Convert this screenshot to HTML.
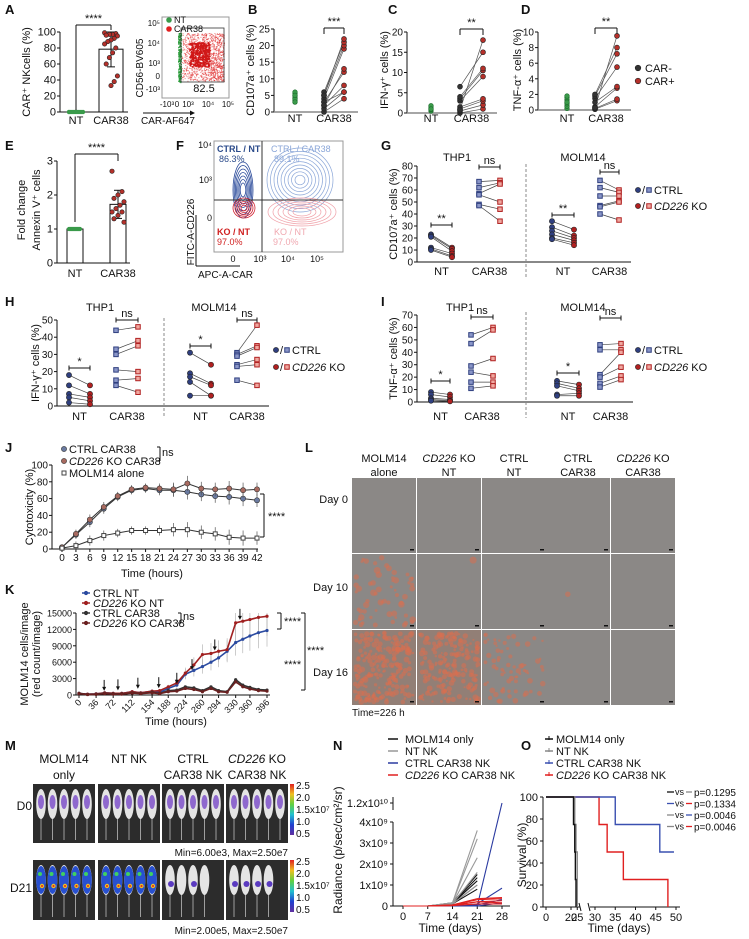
<!DOCTYPE html>
<html><head><meta charset="utf-8">
<style>
body{margin:0;background:#fff}
svg{display:block;font-family:"Liberation Sans",Arial,sans-serif}
</style></head>
<body>
<svg id="fig" width="749" height="939" viewBox="0 0 749 939">
<defs>
<linearGradient id="cbar" x1="0" y1="0" x2="0" y2="1">
<stop offset="0" stop-color="#e02020"/><stop offset="0.2" stop-color="#f0c020"/><stop offset="0.4" stop-color="#60d040"/><stop offset="0.6" stop-color="#20c0d0"/><stop offset="0.8" stop-color="#2040d0"/><stop offset="1" stop-color="#6030a0"/>
</linearGradient>
</defs>
</svg>
<script>
// ---------- DATA ----------
const aCats=['NT','CAR38'];
const aNT=[0,0,0,0,0,0,0,0,0,0,0,0,0,0,0,0,0];
const aCAR=[99,98,97,97,96,95,92,90,88,85,80,74,68,60,45,38,33];
const bNT=[3,3.5,4,4.5,5,5.5,6,4,3,5];
const bNeg=[0,1,2,3,4,5,6,5,3,2];
const bPos=[4,6,8,12,19,20,21,22,6,13];
const cNT=[0.5,0.8,1,1.2,1.5,1.8,1];
const cNeg=[0,0.5,1,1.5,3,3.5,4,6.5,0.8];
const cPos=[1,2,3,3.5,9,10.5,11,15,18];
const dNT=[0.2,0.5,0.8,1,1.3,1.6,1.8,1];
const dNeg=[0.1,0.2,0.4,1,1.5,1.8,2,0.3];
const dPos=[1.2,1.4,2.8,3,5.5,7.2,8,9.5];
const eNT=[1,1,1,1,1,1,1,1,1,1,1,1];
const eCAR=[2.7,2.1,2.0,1.9,1.8,1.7,1.6,1.5,1.5,1.4,1.3,1.2];
const gThpNtC=[23,22,21,12,11,10],gThpNtK=[12,11,9,7,5,4];
const gThpCarC=[67,62,57,56,48,47],gThpCarK=[68,66,65,50,44,34];
const gMolNtC=[34,29,26,23,20,19],gMolNtK=[27,22,20,18,16,14];
const gMolCarC=[68,62,55,47,46,40],gMolCarK=[60,58,55,51,50,35];
const hThpNtC=[18,12,7,5,2],hThpNtK=[12,7,5,3,1];
const hThpCarC=[44,33,30,21,15,12],hThpCarK=[46,38,35,20,16,8];
const hMolNtC=[31,19,17,14,6],hMolNtK=[24,13,12,6,6];
const hMolCarC=[31,30,29,24,23,15],hMolCarK=[47,35,34,27,24,12];
const iThpNtC=[8,6,3,2,1],iThpNtK=[6,4,2,1,0.5];
const iThpCarC=[54,47,29,24,16,11],iThpCarK=[60,58,35,21,16,13];
const iMolNtC=[17,15,13,6,5],iMolNtK=[14,11,9,7,5];
const iMolCarC=[46,42,22,20,15,12],iMolCarK=[47,42,40,28,21,18];
const jTime=[0,3,6,9,12,15,18,21,24,27,30,33,36,39,42];
const jCtrl=[2,17,32,48,62,70,72,70,70,68,65,63,62,60,58];
const jKO=[2,18,35,50,63,71,73,72,71,78,72,71,72,70,71];
const jAlone=[1,4,10,16,19,22,22,22,23,23,20,18,14,13,13];
const jErr=[2,5,6,6,5,5,5,6,8,9,8,8,9,9,8];
const kTime=[0,18,36,54,72,90,112,130,154,170,188,206,224,242,260,278,294,312,330,345,360,378,396];
const kCtrlNT=[300,150,200,400,300,300,600,400,700,500,1200,1800,3800,4500,5200,6000,6800,8000,9600,10200,10800,11400,11800];
const kKoNT=[300,150,200,400,300,300,600,400,700,800,1500,2200,4000,5500,7400,7600,8000,8300,13200,13500,13800,14200,14400];
const kCtrlCAR=[300,100,150,300,200,200,400,300,500,300,800,900,1500,1300,800,1500,800,600,2800,1800,1400,1000,900];
const kKoCAR=[250,80,120,250,150,150,350,250,400,250,600,700,1200,1000,600,1200,600,500,2400,1500,1100,800,700];
const kArrows=[53,82,124,168,206,238,286,339];
const kTickLabels=[0,36,72,112,154,188,224,260,294,330,360,396];
const nDays=[0,7,14,21,28];
const nMolm=[[0,0,1.0e8,1.0e9],[0,0,1.2e8,1.2e9],[0,0,1.5e8,1.5e9],[0,0,1.0e8,0.8e9],[0,0,1.3e8,1.35e9]];
const nNT=[[0,0,1.5e8,3.6e9],[0,0,1.5e8,3.2e9],[0,0,1.2e8,2.3e9],[0,0,1.0e8,1.6e9],[0,0,1.0e8,1.0e9]];
const nCtrl=[[0,0,0,0,1.2e10],[0,0,0,1e8,0.85e9],[0,0,0,5e7,0.3e9],[0,0,0,0,1.5e8]];
const nKO=[[0,0,5e7,3.5e8,4.0e8],[0,0,5e7,3.0e8,3.5e8],[0,0,2e7,2.0e8,2.5e8],[0,0,2e7,1.0e8,1.0e8],[0,0,5e7,2.0e8,1.5e8]];
const oBlackT=[0,22,23,23.5,24],oBlackS=[100,75,50,25,0];
const oGrayT=[0,23,24,25],oGrayS=[100,75,50,0];
const oBlueT=[0,35,46,49],oBlueS=[100,75,50,50];
const oRedT=[0,31,33,37,48],oRedS=[100,75,50,25,0];
const oPvals=['p=0.1295','p=0.1334','p=0.0046','p=0.0046'];

// ---------- HELPERS ----------
const NS='http://www.w3.org/2000/svg';
const root=document.getElementById('fig');
function mk(tag,attrs,name,parent){
  const el=document.createElementNS(NS,tag);
  for(const k in attrs) el.setAttribute(k,attrs[k]);
  
  
  (parent||root).appendChild(el);
  return el;
}
function T(x,y,s,o,name,p){o=o||{};const a={x:x,y:y,'font-size':o.fs||10,'text-anchor':o.a||'start',fill:o.c||'#111'};
  if(o.w)a['font-weight']=o.w; if(o.i)a['font-style']='italic'; if(o.r)a.transform='rotate('+o.r+' '+x+' '+y+')';
  const el=mk('text',a,name,p);el.textContent=s;return el;}
function L(x1,y1,x2,y2,c,w,name,p,dash){const a={x1:x1,y1:y1,x2:x2,y2:y2,stroke:c||'#111','stroke-width':w||1};if(dash)a['stroke-dasharray']=dash;return mk('line',a,name,p);}
function lin(d0,d1,r0,r1){return v=>r0+(v-d0)*(r1-r0)/(d1-d0);}
function G(name){return mk('g',{},name);}
function yAxis(g,x,sc,ticks,labels,fs){L(x,sc(ticks[0]),x,sc(ticks[ticks.length-1]),'#111',1,'y-axis-line',g);
  ticks.forEach((t,i)=>{L(x-3,sc(t),x,sc(t),'#111',1,'y-tick',g);T(x-4,sc(t)+3.5,labels?labels[i]:String(t),{a:'end',fs:fs||10},'y-tick-label',g);});}
function dot(g,x,y,r,fill,name,stroke){return mk('circle',{cx:x,cy:y,r:r,fill:fill,stroke:stroke||'#222','stroke-width':0.6},name,g);}
function sq(g,x,y,s,fill,stroke,name){return mk('rect',{x:x-s/2,y:y-s/2,width:s,height:s,fill:fill,stroke:stroke,'stroke-width':1},name,g);}
function bracket(g,x1,x2,y,label,name,legs){L(x1,y,x2,y,'#111',1,name,g);
  if(legs){L(x1,y,x1,legs[0],'#111',1,name+'-leg',g);L(x2,y,x2,legs[1],'#111',1,name+'-leg',g);}
  else{L(x1,y-2.5,x1,y+2.5,'#111',1,name+'-cap',g);L(x2,y-2.5,x2,y+2.5,'#111',1,name+'-cap',g);}
  T((x1+x2)/2,y-3,label,{a:'middle',fs:11},name+'-label',g);}
function mean(a){return a.reduce((s,v)=>s+v,0)/a.length;}
function sd(a){const m=mean(a);return Math.sqrt(a.reduce((s,v)=>s+(v-m)*(v-m),0)/(a.length-1));}
let seed=7;function rnd(){seed=(seed*16807)%2147483647;return (seed-1)/2147483646;}
function plabel(x,y,s,g){T(x,y,s,{fs:13,w:'bold'},'panel-label',g);}
const RED='#b5302a',BLK='#333',GRN='#3a9a4a';
const CB='#2f3f7f',CBs='#8a96c8',KR='#b02020',KRs='#f0a8a0';

// ---------- PANEL A ----------
{const g=G('panel-a');plabel(5,14,'A',g);
 const sy=lin(0,100,112,32);yAxis(g,60,sy,[0,20,40,60,80,100],null,11);
 L(60,112,128,112,'#111',1,'x-axis-line',g);
 const xs=[76,111];aCats.forEach((c,i)=>T(xs[i],124,c,{a:'middle',fs:11},'x-tick-label',g));
 const m=mean(aCAR),s=sd(aCAR);
 mk('rect',{x:99,y:sy(m),width:24,height:sy(0)-sy(m),fill:'#fff',stroke:'#111'},'bar-car38',g);
 L(111,sy(Math.min(100,m+s)),111,sy(m-s),'#111',1,'error-bar',g);
 L(107,sy(Math.min(100,m+s)),115,sy(Math.min(100,m+s)),'#111',1,'error-cap',g);L(107,sy(m-s),115,sy(m-s),'#111',1,'error-cap',g);
 aNT.forEach((v,i)=>dot(g,69+(i%8)*2,sy(v),1.8,GRN,'point-nt',GRN));
 aCAR.forEach((v,i)=>dot(g,111+((i*7)%9-4)*1.6,sy(v),2.2,RED,'point-car38'));
 bracket(g,76,111,25,'****','sig-bracket',[110,30]);
 T(30,72,'CAR⁺ NKcells (%)',{r:-90,a:'middle',fs:11},'y-axis-title',g);
 const f=G('flow-plot-a');
 mk('rect',{x:162,y:17,width:67,height:81,fill:'#fff',stroke:'#999'},'flow-frame',f);
 for(let i=0;i<1200;i++){const x=182+Math.pow(rnd(),0.8)*42;const y=33+rnd()*48;mk('rect',{x:x,y:y,width:1,height:1,fill:'#e02a2a',opacity:0.6},'cell-dot',f);}
 for(let i=0;i<300;i++){mk('circle',{cx:200+ (rnd()-0.5)*20,cy:55+(rnd()-0.5)*24,r:1,fill:'#d01818'},'cell-dot-dense',f);}
 for(let i=0;i<200;i++){mk('rect',{x:178+rnd()*3,y:33+rnd()*49,width:1.2,height:1.2,fill:'#2a9a3a'},'cell-dot-nt',f);}
 mk('rect',{x:181,y:28,width:43,height:54,fill:'none',stroke:'#333','stroke-width':0.8},'gate',f);
 T(204,92,'82.5',{a:'middle',fs:11},'gate-percent',f);
 [['10⁵',26],['10⁴',46],['10³',66],['0',79],['-10³',92]].forEach(t=>T(160,t[1],t[0],{a:'end',fs:8},'y-tick-label',f));
 [['-10³',167],['0',177],['10³',188],['10⁴',208],['10⁵',228]].forEach(t=>T(t[1],107,t[0],{a:'middle',fs:8},'x-tick-label',f));
 L(143,113,192,113,'#111',1,'x-arrow',f);mk('path',{d:'M195,113 l-5,-2.5 v5z',fill:'#111'},'arrowhead',f);
 T(143,68,'CD56-BV605',{r:-90,a:'middle',fs:10},'y-axis-title',f);
 T(141,124,'CAR-AF647',{fs:10},'x-axis-title',f);
 dot(f,169,20,2.5,GRN,'legend-marker-nt',GRN);T(174,23,'NT',{fs:9},'legend-nt',f);
 dot(f,169,29,2.5,'#e02020','legend-marker-car38','#e02020');T(174,32,'CAR38',{fs:9},'legend-car38',f);
}
// ---------- PANELS B C D ----------
function pairPanel(name,lab,lx,ax,sy,ticks,ntX,negX,posX,nt,neg,pos,ytitle,stars,bY,yt){
 const g=G(name);plabel(lx,14,lab,g);
 yAxis(g,ax,sy,ticks,null,10);
 L(ax,sy(0),posX+14,sy(0),'#888',1.5,'x-axis-line',g);
 T(ntX,122,'NT',{a:'middle',fs:11},'x-tick-label',g);T((negX+posX)/2,122,'CAR38',{a:'middle',fs:11},'x-tick-label',g);
 nt.forEach((v,i)=>dot(g,ntX,sy(v),2.3,GRN,'point-nt','#1a6a2a'));
 neg.forEach((v,i)=>L(negX,sy(v),posX,sy(pos[i]),'#555',0.7,'pair-line',g));
 neg.forEach((v,i)=>dot(g,negX,sy(v),2.5,BLK,'point-car-neg'));
 pos.forEach((v,i)=>dot(g,posX,sy(v),2.5,RED,'point-car-pos'));
 bracket(g,negX,posX,bY,stars,'sig-bracket',[bY+6,bY+6]);
 T(yt,70,ytitle,{r:-90,a:'middle',fs:11},'y-axis-title',g);
 return g;}
pairPanel('panel-b','B',248,274,lin(0,25,112,29),[0,5,10,15,20,25],295,324,344,bNT,bNeg,bPos,'CD107a⁺ cells (%)','***',28,254);
pairPanel('panel-c','C',388,407,lin(0,20,113,32),[0,5,10,15,20],431,460,483,cNT,cNeg,cPos,'IFN-γ⁺ cells (%)','**',29,388);
const gd=pairPanel('panel-d','D',521,538,lin(0,10,110,32),[0,2,4,6,8,10],567,595,617,dNT,dNeg,dPos,'TNF-α⁺ cells (%)','**',28,521);
dot(gd,638,68,2.8,BLK,'legend-marker-car-neg');T(645,72,'CAR-',{fs:11},'legend-car-neg',gd);
dot(gd,638,81,2.8,RED,'legend-marker-car-pos');T(645,85,'CAR+',{fs:11},'legend-car-pos',gd);

// ---------- PANEL E ----------
{const g=G('panel-e');plabel(5,150,'E',g);
 const sy=lin(0,3,263,161);yAxis(g,57,sy,[0,1,2,3],null,11);
 L(57,263,130,263,'#111',1,'x-axis-line',g);
 T(75,277,'NT',{a:'middle',fs:11},'x-tick-label',g);T(118,277,'CAR38',{a:'middle',fs:11},'x-tick-label',g);
 const m1=mean(eNT),m2=mean(eCAR),s2=sd(eCAR);
 mk('rect',{x:67,y:sy(m1),width:16,height:sy(0)-sy(m1),fill:'#fff',stroke:'#111'},'bar-nt',g);
 mk('rect',{x:110,y:sy(m2),width:16,height:sy(0)-sy(m2),fill:'#fff',stroke:'#111'},'bar-car38',g);
 L(118,sy(m2+s2),118,sy(m2-s2),'#111',1,'error-bar',g);L(114,sy(m2+s2),122,sy(m2+s2),'#111',1,'error-cap',g);L(114,sy(m2-s2),122,sy(m2-s2),'#111',1,'error-cap',g);
 eNT.forEach((v,i)=>dot(g,69+i,sy(v),1.8,GRN,'point-nt',GRN));
 eCAR.forEach((v,i)=>dot(g,118+((i*5)%7-3)*2,sy(v),2.2,RED,'point-car38'));
 bracket(g,75,118,154,'****','sig-bracket',[222,161]);
 T(25,210,'Fold change',{r:-90,a:'middle',fs:11},'y-axis-title-line1',g);
 T(40,210,'Annexin V⁺ cells',{r:-90,a:'middle',fs:11},'y-axis-title-line2',g);
}
// ---------- PANEL F ----------
{const g=G('panel-f');plabel(176,150,'F',g);
 mk('rect',{x:214,y:141,width:129,height:111,fill:'#fff',stroke:'#999'},'flow-frame',g);
 for(let k=0;k<9;k++){mk('ellipse',{cx:300,cy:180,rx:33-k*3.5,ry:32-k*3.4,fill:'none',stroke:'#8aa6d8','stroke-width':0.7},'contour-ctrl-car38',g);}
 for(let k=0;k<6;k++){mk('ellipse',{cx:302,cy:212,rx:34-k*5,ry:14-k*2,fill:'none',stroke:'#f0a0a8','stroke-width':0.7},'contour-ko-car38',g);}
 for(let k=0;k<7;k++){mk('ellipse',{cx:243,cy:190,rx:10-k*1.2,ry:28-k*3.5,fill:'none',stroke:'#2a4a9a','stroke-width':0.8},'contour-ctrl-nt',g);}
 for(let k=0;k<5;k++){mk('ellipse',{cx:244,cy:208,rx:11-k*2,ry:10-k*1.8,fill:'none',stroke:'#d02030','stroke-width':0.8},'contour-ko-nt',g);}
 L(262,141,262,252,'#333',1,'quadrant-v',g);L(214,200,343,200,'#333',1,'quadrant-h',g);
 T(217,152,'CTRL / NT',{fs:9,w:'bold',c:'#2a4a8a'},'quad-label',g);T(219,162,'86.3%',{fs:9,c:'#2a4a8a'},'quad-value',g);
 T(271,152,'CTRL / CAR38',{fs:9,c:'#8aa6d8'},'quad-label',g);T(274,162,'89.1%',{fs:9,c:'#8aa6d8'},'quad-value',g);
 T(217,235,'KO / NT',{fs:9,w:'bold',c:'#d02020'},'quad-label',g);T(217,245,'97.0%',{fs:9,c:'#d02020'},'quad-value',g);
 T(274,235,'KO / NT',{fs:9,c:'#f0a8b0'},'quad-label',g);T(273,245,'97.0%',{fs:9,c:'#f0a8b0'},'quad-value',g);
 T(212,148,'10⁴',{a:'end',fs:9},'y-tick-label',g);T(212,183,'10³',{a:'end',fs:9},'y-tick-label',g);T(212,221,'0',{a:'end',fs:9},'y-tick-label',g);
 [['0',233],['10³',260],['10⁴',288],['10⁵',317]].forEach(t=>T(t[1],262,t[0],{a:'middle',fs:9},'x-tick-label',g));
 L(196,266,240,266,'#111',1,'x-arrow',g);L(196,266,196,215,'#111',1,'y-arrow',g);
 T(194,232,'FITC-A-CD226',{r:-90,a:'middle',fs:10},'y-axis-title',g);
 T(198,278,'APC-A-CAR',{fs:10},'x-axis-title',g);
}
// ---------- PANELS G H I ----------
function grpPanel(name,lab,lx,ly,ax,sy,ticks,pos,sets,div,divY,titles,xlabY,brks,legX,legY,ytitle,ytx){
 const g=G(name);plabel(lx,ly,lab,g);
 yAxis(g,ax,sy,ticks,null,10);
 L(ax,sy(0),pos[3][1]+12,sy(0),'#111',1,'x-axis-line',g);
 L(div,divY[0],div,divY[1],'#888',1,'group-divider',g,'3,2');
 T(titles[0][1],titles[0][2],titles[0][0],{a:'middle',fs:11},'group-title',g);
 T(titles[1][1],titles[1][2],titles[1][0],{a:'middle',fs:11},'group-title',g);
 ['NT','CAR38','NT','CAR38'].forEach((s,i)=>T((pos[i][0]+pos[i][1])/2,xlabY,s,{a:'middle',fs:11},'x-tick-label',g));
 sets.forEach((st,i)=>{const c=st[0],k=st[1];
  c.forEach((v,j)=>L(pos[i][0],sy(v),pos[i][1],sy(k[j]),'#444',0.7,'pair-line',g));
  c.forEach(v=>{if(i%2==0)dot(g,pos[i][0],sy(v),2.6,CB,'point-ctrl');else sq(g,pos[i][0],sy(v),4.5,CBs,CB,'point-ctrl');});
  k.forEach(v=>{if(i%2==0)dot(g,pos[i][1],sy(v),2.6,KR,'point-ko');else sq(g,pos[i][1],sy(v),4.5,KRs,KR,'point-ko');});
 });
 brks.forEach(b=>bracket(g,b[0],b[1],b[2],b[3],'sig-bracket'));
 dot(g,legX,legY[0],2.6,CB,'legend-marker-ctrl');T(legX+4,legY[0]+4,'/',{fs:11},'legend-slash',g);sq(g,legX+11,legY[0],4.5,CBs,CB,'legend-marker-ctrl');T(legX+16,legY[0]+4,'CTRL',{fs:11},'legend-ctrl',g);
 dot(g,legX,legY[1],2.6,KR,'legend-marker-ko');T(legX+4,legY[1]+4,'/',{fs:11},'legend-slash',g);sq(g,legX+11,legY[1],4.5,KRs,KR,'legend-marker-ko');
 const t=T(legX+16,legY[1]+4,'',{fs:11},'legend-ko',g);t.innerHTML='<tspan font-style="italic">CD226</tspan> KO';
 T(ytx,(sy(0)+sy(ticks[ticks.length-1]))/2,ytitle,{r:-90,a:'middle',fs:11},'y-axis-title',g);}
grpPanel('panel-g','G',381,150,417,lin(0,80,262,166),[0,10,20,30,40,50,60,70,80],[[431,452],[479,500],[552,574],[600,619]],
 [[gThpNtC,gThpNtK],[gThpCarC,gThpCarK],[gMolNtC,gMolNtK],[gMolCarC,gMolCarK]],526,[164,278],[['THP1',457,161],['MOLM14',583,161]],275,
 [[431,452,225,'**'],[479,500,167,'ns'],[552,574,215,'**'],[600,619,172,'ns']],638,[190,206],'CD107a⁺ cells (%)',397);
grpPanel('panel-h','H',5,306,57,lin(0,50,406,320),[0,10,20,30,40,50],[[69,90],[116,138],[190,211],[237,257]],
 [[hThpNtC,hThpNtK],[hThpCarC,hThpCarK],[hMolNtC,hMolNtK],[hMolCarC,hMolCarK]],164,[318,418],[['THP1',100,311],['MOLM14',214,311]],420,
 [[69,90,368,'*'],[116,138,320,'ns'],[190,211,346,'*'],[237,257,320,'ns']],276,[350,367],'IFN-γ⁺ cells (%)',39);
grpPanel('panel-i','I',381,306,417,lin(0,70,402,315),[0,10,20,30,40,50,60,70],[[431,450],[471,493],[557,579],[600,621]],
 [[iThpNtC,iThpNtK],[iThpCarC,iThpCarK],[iMolNtC,iMolNtK],[iMolCarC,iMolCarK]],526,[312,418],[['THP1',460,311],['MOLM14',583,311]],420,
 [[431,450,381,'*'],[471,493,317,'ns'],[557,579,373,'*'],[600,621,318,'ns']],638,[350,367],'TNF-α⁺ cells (%)',397);

// ---------- PANEL J ----------
{const g=G('panel-j');plabel(5,452,'J',g);
 const sy=lin(0,100,549,465),sx=lin(0,42,62,257);
 yAxis(g,52,sy,[0,20,40,60,80,100],null,10);
 L(52,549,258,549,'#111',1,'x-axis-line',g);
 jTime.forEach(t=>{L(sx(t),549,sx(t),552,'#111',1,'x-tick',g);T(sx(t),561,String(t),{a:'middle',fs:10},'x-tick-label',g);});
 const series=[[jCtrl,'#6a7aa0','ctrl-car38'],[jKO,'#a86a60','ko-car38'],[jAlone,'#fff','molm14-alone']];
 series.forEach(s=>{
  s[0].forEach((v,i)=>{L(sx(jTime[i]),sy(v-jErr[i]),sx(jTime[i]),sy(v+jErr[i]),'#555',0.7,'error-bar-'+s[2],g);});
  mk('polyline',{points:s[0].map((v,i)=>sx(jTime[i])+','+sy(v)).join(' '),fill:'none',stroke:'#333','stroke-width':1},'line-'+s[2],g);
  s[0].forEach((v,i)=>{if(s[2]=='molm14-alone')sq(g,sx(jTime[i]),sy(v),4,'#fff','#444','point-'+s[2]);else dot(g,sx(jTime[i]),sy(v),2.6,s[1],'point-'+s[2],'#333');});
 });
 dot(g,64,449,2.6,'#6a7aa0','legend-marker-ctrl','#333');T(69,453,'CTRL CAR38',{fs:11},'legend-ctrl-car38',g);
 dot(g,64,461,2.6,'#a86a60','legend-marker-ko','#333');const t=T(69,465,'',{fs:11},'legend-ko-car38',g);t.innerHTML='<tspan font-style="italic">CD226</tspan> KO CAR38';
 sq(g,64,473,4,'#fff','#444','legend-marker-alone');T(69,477,'MOLM14 alone',{fs:11},'legend-molm14-alone',g);
 L(157,447,160,447,'#111',1,'ns-bracket',g);L(160,447,160,461,'#111',1,'ns-bracket',g);L(157,461,160,461,'#111',1,'ns-bracket',g);T(162,456,'ns',{fs:11},'ns-label',g);
 L(260,494,264,494,'#111',1,'sig-bracket',g);L(264,494,264,537,'#111',1,'sig-bracket',g);L(260,537,264,537,'#111',1,'sig-bracket',g);T(268,520,'****',{fs:11},'sig-label',g);
 T(152,577,'Time (hours)',{a:'middle',fs:11},'x-axis-title',g);
 T(33,507,'Cytotoxicity (%)',{r:-90,a:'middle',fs:11},'y-axis-title',g);
}
// ---------- PANEL K ----------
{const g=G('panel-k');plabel(5,594,'K',g);
 const sy=lin(0,15000,695,613),sx=lin(0,396,79,267);
 yAxis(g,76,sy,[0,3000,6000,9000,12000,15000],null,9);
 L(76,695,270,695,'#111',1,'x-axis-line',g);
 kTickLabels.forEach(t=>{L(sx(t),695,sx(t),698,'#111',1,'x-tick',g);T(sx(t)+3,703,String(t),{a:'end',fs:9,r:-45},'x-tick-label',g);});
 [[kCtrlNT,'#2a4aa0','ctrl-nt'],[kKoNT,'#a02020','ko-nt']].forEach(s=>{
  s[0].forEach((v,i)=>{if(kTime[i]>=188){const e=v*0.25;L(sx(kTime[i]),sy(v-e),sx(kTime[i]),sy(Math.min(15000,v+e)),'#aaa',0.6,'error-bar-'+s[2],g);}});});
 [[kCtrlNT,'#2a4aa0','ctrl-nt'],[kKoNT,'#a02020','ko-nt'],[kCtrlCAR,'#333','ctrl-car38'],[kKoCAR,'#6a2020','ko-car38']].forEach(s=>{
  mk('polyline',{points:s[0].map((v,i)=>sx(kTime[i])+','+sy(v)).join(' '),fill:'none',stroke:s[1],'stroke-width':1.6},'line-'+s[2],g);
  s[0].forEach((v,i)=>dot(g,sx(kTime[i]),sy(v),1.3,s[1],'point-'+s[2],s[1]));});
 kArrows.forEach(h=>{const i=kTime.findIndex(t=>t>=h);const v=Math.max(kCtrlNT[Math.max(0,i-1)],kKoNT[Math.max(0,i-1)]);const y=sy(v)-14;
  L(sx(h),y,sx(h),y+8,'#111',1,'arrow-addition',g);mk('path',{d:'M'+(sx(h)-2)+','+(y+7)+' l2,4 l2,-4z',fill:'#111'},'arrowhead',g);});
 const leg=[['#2a4aa0','CTRL NT',593,false],['#a02020','KO NT',603,true],['#333','CTRL CAR38',613,false],['#6a2020','KO CAR38',623,true]];
 leg.forEach(l=>{L(82,l[2],90,l[2],l[0],1.5,'legend-line',g);dot(g,86,l[2],1.8,l[0],'legend-marker',l[0]);
  const t=T(93,l[2]+4,'',{fs:11},'legend-entry',g);t.innerHTML=l[3]?'<tspan font-style="italic">CD226</tspan> '+l[1]:l[1];});
 L(178,613,181,613,'#111',1,'ns-bracket',g);L(181,613,181,623,'#111',1,'ns-bracket',g);L(178,623,181,623,'#111',1,'ns-bracket',g);T(183,620,'ns',{fs:11},'ns-label',g);
 L(277,613,281,613,'#111',1,'sig-bracket',g);L(281,613,281,629,'#111',1,'sig-bracket',g);L(277,629,281,629,'#111',1,'sig-bracket',g);T(284,625,'****',{fs:11},'sig-label',g);
 L(301,613,305,613,'#111',1,'sig-bracket',g);L(305,613,305,690,'#111',1,'sig-bracket',g);L(301,690,305,690,'#111',1,'sig-bracket',g);T(307,654,'****',{fs:11},'sig-label',g);
 T(284,668,'****',{fs:11},'sig-label',g);
 T(176,725,'Time (hours)',{a:'middle',fs:11},'x-axis-title',g);
 T(28,654,'MOLM14 cells/image',{r:-90,a:'middle',fs:11},'y-axis-title-line1',g);
 T(40,654,'(red count/image)',{r:-90,a:'middle',fs:11},'y-axis-title-line2',g);
}
// ---------- PANEL L ----------
{const g=G('panel-l');plabel(305,452,'L',g);
 const cols=[352,417,482,546,611],rows=[478,554,630],w=64,h=75;
 const heads=[['MOLM14','alone',false],['KO','NT',true],['CTRL','NT',false],['CTRL','CAR38',false],['KO','CAR38',true]];
 heads.forEach((hd,i)=>{const cx=cols[i]+w/2;const t=T(cx,462,'',{a:'middle',fs:11},'column-header',g);t.innerHTML=hd[2]?'<tspan font-style="italic">CD226</tspan> '+hd[0]:hd[0];T(cx,476,hd[1],{a:'middle',fs:11},'column-header-line2',g);});
 [['Day 0',503],['Day 10',591],['Day 16',676]].forEach(r=>T(348,r[1],r[0],{a:'end',fs:11},'row-label',g));
 const dens=[[0,0,0,0,0],[60,1,0,1,0],[220,180,70,0,0]];
 rows.forEach((y,ri)=>cols.forEach((x,ci)=>{
  const n=dens[ri][ci];
  mk('rect',{x:x,y:y,width:w,height:h,fill:n>150?'#927f76':'#8b8886'},'microscopy-image',g);
  for(let k=0;k<n;k++){mk('circle',{cx:x+3+rnd()*(w-6),cy:y+3+rnd()*(h-6),r:(ri==1&&ci==1)?3.5:(ri==2?1+rnd()*2:1.2+rnd()*2.2),fill:'#d87050',opacity:0.55},'tumor-cell-cluster',g);}
  mk('rect',{x:x+w-6,y:y+h-4,width:4,height:1.5,fill:'#111'},'scale-bar',g);}));
 T(352,716,'Time=226 h',{fs:10},'timestamp',g);
}
// ---------- PANEL M ----------
{const g=G('panel-m');plabel(5,750,'M',g);
 const cols=[33,98,162,226],w=62;
 const heads=[['MOLM14','only',false],['NT NK','',false],['CTRL','CAR38 NK',false],['KO','CAR38 NK',true]];
 heads.forEach((hd,i)=>{const cx=cols[i]+w/2;const t=T(cx,763,'',{a:'middle',fs:12},'column-header',g);t.innerHTML=hd[2]?'<tspan font-style="italic">CD226</tspan> '+hd[0]:hd[0];if(hd[1])T(cx,779,hd[1],{a:'middle',fs:12},'column-header-line2',g);});
 const rowsY=[[784,59,'D0',810,856,'Min=6.00e3, Max=2.50e7'],[860,60,'D21',892,934,'Min=2.00e5, Max=2.50e7']];
 rowsY.forEach((r,ri)=>{
  T(32,r[3],r[2],{a:'end',fs:12},'row-label',g);
  cols.forEach((x,ci)=>{
   mk('rect',{x:x,y:r[0],width:w,height:r[1],fill:'#2c2c2c'},'bioluminescence-image',g);
   const nm=(ri==1&&ci>=2)?4:5;
   for(let k=0;k<nm;k++){const mx=x+8+k*11.5;
    L(mx,r[0]+34,mx,r[0]+r[1]-3,'#bbb',0.8,'mouse-tail',g);
    mk('ellipse',{cx:mx,cy:r[0]+20,rx:4.8,ry:15,fill:'#e4e4e4'},'mouse-body',g);
    if(ri==0){mk('ellipse',{cx:mx,cy:r[0]+18,rx:3,ry:7,fill:'#7848c8',opacity:0.8},'signal',g);}
    else if(ci<2){mk('ellipse',{cx:mx,cy:r[0]+20,rx:4.8,ry:14,fill:'#2850d0'},'signal',g);
      mk('circle',{cx:mx-1,cy:r[0]+14,r:2,fill:'#40d060'},'signal-hot',g);mk('circle',{cx:mx+1,cy:r[0]+26,r:2.2,fill:'#f0c020'},'signal-hot',g);mk('circle',{cx:mx+1,cy:r[0]+26,r:1,fill:'#e02020'},'signal-hot',g);}
    else if(k%2==0||ci==3){mk('circle',{cx:mx+1,cy:r[0]+24,r:3,fill:'#5a3ac0'},'signal',g);}
   }});
  mk('rect',{x:290,y:r[0],width:4,height:r[1]-8,fill:'url(#cbar)'},'colorbar',g);
  [['2.5',0],['2.0',12],['1.5x10⁷',24],['1.0',36],['0.5',48]].forEach(t=>T(296,r[0]+5+t[1],t[0],{fs:10},'colorbar-label',g));
  T(288,r[4],r[5],{a:'end',fs:10},'min-max-label',g);
 });
}
// ---------- PANEL N ----------
{const g=G('panel-n');plabel(333,750,'N',g);
 const sx=lin(0,28,403,502),syL=lin(0,4e9,906,822),syH=lin(4e9,1.2e10,822,803);
 const sy=v=>v<=4e9?syL(v):syH(v);
 L(393,906,393,822,'#111',1,'y-axis-line',g);L(393,810,393,797,'#111',1,'y-axis-line-upper',g);
 [[0,'0'],[1e9,'1x10⁹'],[2e9,'2x10⁹'],[3e9,'3x10⁹'],[4e9,'4x10⁹']].forEach(t=>{L(390,sy(t[0]),393,sy(t[0]),'#111',1,'y-tick',g);T(388,sy(t[0])+4,t[1],{a:'end',fs:11},'y-tick-label',g);});
 L(390,803,393,803,'#111',1,'y-tick',g);T(388,807,'1.2x10¹⁰',{a:'end',fs:11},'y-tick-label',g);
 L(393,906,510,906,'#111',1,'x-axis-line',g);
 nDays.forEach(d=>{L(sx(d),906,sx(d),909,'#111',1,'x-tick',g);T(sx(d),920,String(d),{a:'middle',fs:11},'x-tick-label',g);});
 const grp=[[nMolm,'#111','molm14-only'],[nNT,'#999','nt-nk'],[nCtrl,'#2a3aa0','ctrl-car38-nk'],[nKO,'#e02020','ko-car38-nk']];
 grp.forEach(gr=>gr[0].forEach(m=>mk('polyline',{points:m.map((v,i)=>sx(nDays[i])+','+sy(v)).join(' '),fill:'none',stroke:gr[1],'stroke-width':1.1},'line-'+gr[2],g)));
 const leg=[['#111','MOLM14 only',false],['#999','NT NK',false],['#2a3aa0','CTRL CAR38 NK',false],['#e02020','KO CAR38 NK',true]];
 leg.forEach((l,i)=>{const y=739+i*12;L(388,y,398,y,l[0],1.5,'legend-line',g);const t=T(405,y+4,'',{fs:11},'legend-entry',g);t.innerHTML=l[2]?'<tspan font-style="italic">CD226</tspan> '+l[1]:l[1];});
 T(450,932,'Time (days)',{a:'middle',fs:12},'x-axis-title',g);
 T(342,850,'Radiance (p/sec/cm²/sr)',{r:-90,a:'middle',fs:12},'y-axis-title',g);
}
// ---------- PANEL O ----------
{const g=G('panel-o');plabel(521,750,'O',g);
 const s1=lin(0,20,546,571),s2=lin(30,50,595,676);
 const sx=t=>t<=25?s1(t):t>=30?s2(t):s1(25)+(t-25)*(s2(30)-s1(25))/5;
 const sy=lin(0,100,907,797);
 L(543,907,543,797,'#111',1,'y-axis-line',g);
 [0,20,40,60,80,100].forEach(t=>{L(540,sy(t),543,sy(t),'#111',1,'y-tick',g);T(538,sy(t)+4,String(t),{a:'end',fs:11},'y-tick-label',g);});
 L(543,907,580,907,'#111',1,'x-axis-line',g);L(590,907,680,907,'#111',1,'x-axis-line',g);
 L(579,903,581,911,'#111',1,'axis-break',g);L(588,903,590,911,'#111',1,'axis-break',g);
 [0,20,25,30,35,40,45,50].forEach(t=>{L(sx(t),907,sx(t),910,'#111',1,'x-tick',g);T(sx(t),921,String(t),{a:'middle',fs:11},'x-tick-label',g);});
 function km(ts,ss,col,nm,end){let d='M'+sx(ts[0])+','+sy(ss[0]);for(let i=1;i<ts.length;i++){d+=' H'+sx(ts[i])+' V'+sy(ss[i]);}if(end)d+=' H'+sx(end);
  mk('path',{d:d,fill:'none',stroke:col,'stroke-width':1.4},'survival-'+nm,g);}
 km(oRedT,oRedS,'#e02020','ko-car38-nk');km(oBlueT,oBlueS,'#3a50b0','ctrl-car38-nk',49.5);
 km(oGrayT,oGrayS,'#888','nt-nk');km(oBlackT,oBlackS,'#111','molm14-only');
 const leg=[['#111','MOLM14 only',false],['#888','NT NK',false],['#3a50b0','CTRL CAR38 NK',false],['#e02020','KO CAR38 NK',true]];
 leg.forEach((l,i)=>{const y=739+i*12;L(545,y,553,y,l[0],1.5,'legend-line',g);L(549,y-3,549,y+1,l[0],1,'legend-tick',g);const t=T(556,y+4,'',{fs:11},'legend-entry',g);t.innerHTML=l[2]?'<tspan font-style="italic">CD226</tspan> '+l[1]:l[1];});
 const pc=[['#111','#888'],['#3a50b0','#e02020'],['#888','#3a50b0'],['#888','#e02020']];
 oPvals.forEach((p,i)=>{const y=792+i*11.5;L(667,y,674,y,pc[i][0],1.3,'p-legend-line',g);T(675,y+3,'vs',{fs:9},'p-legend-vs',g);L(686,y,692,y,pc[i][1],1.3,'p-legend-line',g);T(694,y+4,p,{fs:10},'p-value',g);});
 T(619,932,'Time (days)',{a:'middle',fs:12},'x-axis-title',g);
 T(526,855,'Survival (%)',{r:-90,a:'middle',fs:12},'y-axis-title',g);
}
</script>
</body></html>
